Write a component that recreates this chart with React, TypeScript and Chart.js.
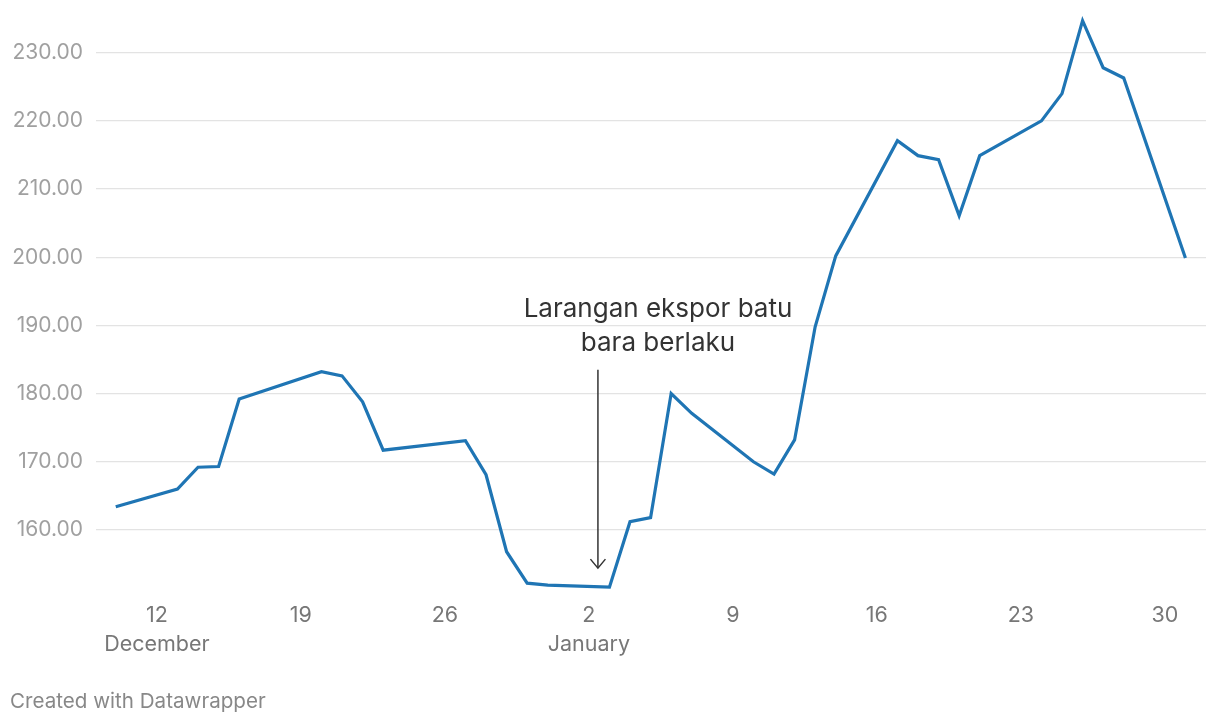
import React, { useEffect, useRef } from "react";
import { Chart, registerables } from "chart.js";

Chart.register(...registerables);

// ---- data ----
const dates = [
  "2022-12-10", "2022-12-13", "2022-12-14", "2022-12-15", "2022-12-16",
  "2022-12-20", "2022-12-21", "2022-12-22", "2022-12-23",
  "2022-12-27", "2022-12-28", "2022-12-29", "2022-12-30", "2022-12-31",
  "2023-01-03", "2023-01-04", "2023-01-05", "2023-01-06", "2023-01-07",
  "2023-01-10", "2023-01-11", "2023-01-12", "2023-01-13", "2023-01-14",
  "2023-01-17", "2023-01-18", "2023-01-19", "2023-01-20", "2023-01-21",
  "2023-01-24", "2023-01-25", "2023-01-26", "2023-01-27", "2023-01-28",
  "2023-01-31",
];
const prices = [
  163.4, 166.0, 169.2, 169.3, 179.2,
  183.2, 182.6, 178.8, 171.7,
  173.1, 168.1, 156.8, 152.2, 151.9,
  151.6, 161.2, 161.8, 180.0, 177.1,
  170.0, 168.2, 173.2, 189.8, 200.2,
  217.1, 214.9, 214.3, 206.1, 214.9,
  220.0, 224.0, 234.7, 227.8, 226.3,
  199.9,
];
const xTickDates = [
  "2022-12-12", "2022-12-19", "2022-12-26", "2023-01-02",
  "2023-01-09", "2023-01-16", "2023-01-23", "2023-01-30",
];
const xTickLabels: (string | string[])[] = [
  ["12", "December"], "19", "26", ["2", "January"], "9", "16", "23", "30",
];
const yTicks = [160, 170, 180, 190, 200, 210, 220, 230];
const annotationText = ["Larangan ekspor batu", "bara berlaku"];
const annotationArrowDay = 21.44; // days after Dec 12 (just after Jan 2)
const annotationArrowFrom = 183.5;
const annotationArrowTo = 154.4;
const annotationTextDay = 24.36;
const annotationTextBaseline = 191.3;
const footerText = "Created with Datawrapper";

const BASE = Date.parse("2022-12-12");
const dayIndex = (s: string) => Math.round((Date.parse(s) - BASE) / 86400000);

const FONT = "Inter, 'Liberation Sans', Arial, sans-serif";

const annotationPlugin = {
  id: "arrowAnnotation",
  afterDatasetsDraw(chart: any) {
    const { ctx, scales } = chart;
    const x = scales.x.getPixelForValue(annotationArrowDay);
    const y1 = scales.y.getPixelForValue(annotationArrowFrom);
    const y2 = scales.y.getPixelForValue(annotationArrowTo);
    ctx.save();
    ctx.strokeStyle = "#333333";
    ctx.lineWidth = 1.5;
    ctx.beginPath();
    ctx.moveTo(x, y1);
    ctx.lineTo(x, y2);
    ctx.stroke();
    ctx.beginPath();
    ctx.moveTo(x - 7.5, y2 - 9);
    ctx.lineTo(x, y2);
    ctx.lineTo(x + 7.5, y2 - 9);
    ctx.stroke();
    const tx = scales.x.getPixelForValue(annotationTextDay);
    const ty = scales.y.getPixelForValue(annotationTextBaseline);
    ctx.fillStyle = "#333333";
    ctx.font = `26px ${FONT}`;
    ctx.textAlign = "center";
    ctx.textBaseline = "alphabetic";
    annotationText.forEach((t, i) => ctx.fillText(t, tx, ty + i * 34));
    ctx.restore();
  },
};

export default function App() {
  const ref = useRef<HTMLCanvasElement | null>(null);

  useEffect(() => {
    if (!ref.current) return;
    const tickDays = xTickDates.map(dayIndex);
    const chart = new Chart(ref.current, {
      type: "line",
      data: {
        datasets: [
          {
            data: dates.map((d, i) => ({ x: dayIndex(d), y: prices[i] })),
            borderColor: "#1f75b4",
            borderWidth: 3.2,
            pointRadius: 0,
            tension: 0,
            fill: false,
          },
        ],
      },
      options: {
        animation: false,
        responsive: false,
        devicePixelRatio: 1,
        layout: { padding: { top: 5, right: 14, left: 0, bottom: 0 } },
        plugins: { legend: { display: false }, tooltip: { enabled: false } },
        scales: {
          x: {
            type: "linear",
            min: -2.96,
            max: 51.0,
            grid: { display: false, drawTicks: false },
            border: { display: false },
            afterBuildTicks: (scale: any) => {
              scale.ticks = tickDays.map((v) => ({ value: v }));
            },
            afterFit: (scale: any) => {
              scale.height = 131.3;
              scale.paddingLeft = 0;
              scale.paddingRight = 0;
            },
            ticks: {
              padding: 6.5,
              maxRotation: 0,
              autoSkip: false,
              color: "#777777",
              font: { family: FONT, size: 21.5, lineHeight: 1.35 },
              callback: (value: any) => {
                const idx = tickDays.indexOf(Number(value));
                return idx >= 0 ? xTickLabels[idx] : "";
              },
            },
          },
          y: {
            type: "linear",
            min: 150.5,
            max: 237,
            grid: { color: "#e3e3e3", lineWidth: 1.3, drawTicks: false },
            border: { display: false },
            afterBuildTicks: (scale: any) => {
              scale.ticks = yTicks.map((v) => ({ value: v }));
            },
            afterFit: (scale: any) => {
              scale.width = 96;
              scale.paddingTop = 0;
              scale.paddingBottom = 0;
            },
            ticks: {
              padding: 13,
              color: "#a0a0a0",
              font: { family: FONT, size: 21 },
              callback: (value: any) => Number(value).toFixed(2),
            },
          },
        },
      },
      plugins: [annotationPlugin],
    });
    return () => chart.destroy();
  }, []);

  return (
    <div
      style={{
        position: "fixed",
        left: 0,
        top: 0,
        width: 1220,
        height: 726,
        background: "#ffffff",
        overflow: "hidden",
      }}
    >
      <canvas ref={ref} width={1220} height={726} style={{ width: 1220, height: 726, display: "block" }} />
      <div
        style={{
          position: "absolute",
          left: 10,
          top: 690,
          fontFamily: FONT,
          fontSize: 20.6,
          lineHeight: "22px",
          color: "#888888",
          whiteSpace: "nowrap",
        }}
      >
        {footerText}
      </div>
    </div>
  );
}
